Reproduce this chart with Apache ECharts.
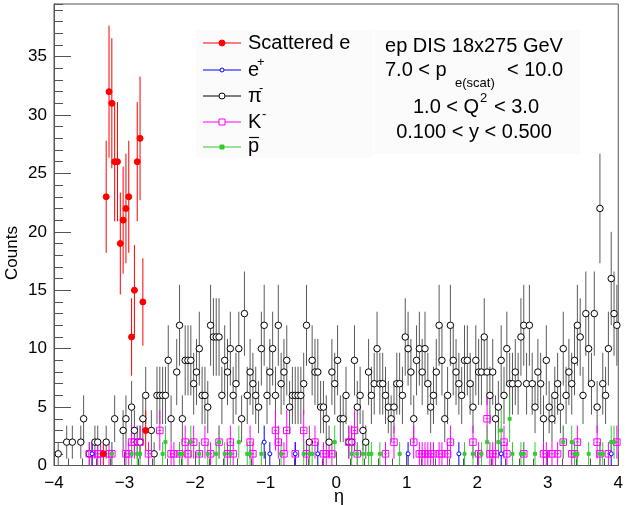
<!DOCTYPE html>
<html><head><meta charset="utf-8">
<script src="https://cdn.jsdelivr.net/npm/echarts@6/dist/echarts.min.js"></script>
<style>html,body{margin:0;padding:0;background:#fff}#c{width:626px;height:505px}</style>
</head><body><div id="c"></div>
<script>
// ---- histogram binning (200 bins, eta from -4 to 4) ----
const N_BINS = 200, X_MIN = -4, X_MAX = 4;
const BIN_W = (X_MAX - X_MIN) / N_BINS;

// ---- data ----
const piMinusCounts = [
  0,1,0,0,2,0,2,0,0,2, 4,0,1,0,2,2,0,0,2,0,
  0,4,0,0,3,4,0,5,3,2, 2,4,6,0,3,1,6,6,6,6,
  9,4,0,8,12,4,9,9,9,7, 8,10,6,6,5,12,11,11,11,6,
  9,8,10,6,7,10,4,13,6,8, 7,6,5,10,12,6,8,10,6,12,
  7,8,9,5,6,6,6,6,7,12, 2,9,8,8,5,5,4,2,8,7,
  9,4,4,6,2,2,9,5,6,3, 2,8,6,7,10,7,7,6,5,4,
  5,7,7,6,11,10,8,4,9,10, 8,10,7,5,6,8,12,9,4,6,
  12,9,8,7,6,9,9,7,5,9, 8,8,11,8,6,8,4,5,9,6,
  10,7,7,8,7,11,12,7,12,7, 5,8,7,4,9,5,4,6,7,5,
  10,6,8,7,9,12,11,6,13,10, 7,13,5,22,7,6,10,16,13,12
];
const scatteredEBins   = [17,18,19,20,21,22,23,24,25,26,27,28,29,30,31,32];
const scatteredECounts = [1,23,32,31,26,26,19,21,22,23,11,15,26,28,14,3];
const ePlusBins   = [13,74,76,85,93,125,143,158,197];
const ePlusCounts = [1,2,1,1,1,1,1,1,1];
const kMinusBins = [12,13,15,16,19,20,25,26,27,28,30,33,37,41,42,44,46,47,49,51,53,55,58,61,62,63,69,70,78,79,81,82,85,88,89,92,95,96,98,104,105,106,107,117,120,127,129,130,131,132,133,134,136,137,139,140,148,150,153,154,155,156,159,160,166,173,174,176,178,180,183,184,185,192,193,196,199];
const kMinusCounts = [1,1,1,1,1,1,1,1,2,2,2,1,3,1,1,1,2,1,2,1,2,1,2,1,2,1,2,1,3,2,1,3,1,3,1,2,1,1,1,2,2,3,1,1,2,2,1,1,1,1,1,1,1,1,1,2,2,1,4,1,1,1,2,1,1,1,1,1,1,2,1,1,2,2,1,1,2];
const pBarBins = [20,27,29,30,38,39,44,45,48,51,54,57,58,60,62,65,68,69,73,80,88,90,91,99,105,107,109,111,112,115,122,145,148,151,153,157,158,161,162,165,166,170,180,183,184,185,189,193,194,197,198];
const pBarCounts = [1,1,1,1,1,2,1,1,2,1,1,1,2,1,1,2,1,1,1,1,1,1,1,2,1,1,1,1,1,1,1,1,1,1,2,2,3,4,1,1,1,1,2,2,1,1,1,1,1,2,2];
const xTickLabels = [-4,-3,-2,-1,0,1,2,3,4];
const yTickLabels = [0,5,10,15,20,25,30,35];

// ---- helpers ----
const binCenter = i => X_MIN + (i + 0.5) * BIN_W;
function fromBins(bins, counts) {
  return bins.map((b, k) => [binCenter(b), counts[k]]).filter(p => p[1] > 0);
}
const piData = fromBins(piMinusCounts.map((c, i) => i), piMinusCounts);
const eData = fromBins(scatteredEBins, scatteredECounts);
const epData = fromBins(ePlusBins, ePlusCounts);
const kData = fromBins(kMinusBins, kMinusCounts);
const pData = fromBins(pBarBins, pBarCounts);

const FONT = '"Liberation Sans", Arial, Helvetica, sans-serif';
const C_RED = '#ff0000', C_BLUE = '#0000ff', C_BLACK = '#000000', C_MAG = '#ff00ff', C_GREEN = '#33cc33';

function errSeries(data, color) {
  return {
    type: 'custom', data, silent: true, clip: true,
    encode: { x: 0, y: 1 },
    renderItem(params, api) {
      const x = api.value(0), y = api.value(1), e = Math.sqrt(y);
      const a = api.coord([x, Math.max(0, y - e)]);
      const b = api.coord([x, y + e]);
      const l = api.coord([x - BIN_W / 2, y]);
      const r = api.coord([x + BIN_W / 2, y]);
      return { type: 'group', children: [
        { type: 'line', shape: { x1: a[0], y1: a[1], x2: b[0], y2: b[1] }, style: { stroke: color, lineWidth: 1 } },
        { type: 'line', shape: { x1: l[0], y1: l[1], x2: r[0], y2: r[1] }, style: { stroke: color, lineWidth: 1 } }
      ]};
    }
  };
}
function markSeries(data, symbol, size, fill, stroke) {
  return {
    type: 'scatter', data, symbol, symbolSize: size, silent: true,
    itemStyle: { color: fill, borderColor: stroke, borderWidth: 1, opacity: 1 }
  };
}

// ---- legend & text box (decoration) ----
const legendRows = [
  { y: 43, color: C_RED, sym: 'circle', size: 6, fill: C_RED },
  { y: 70, color: C_BLUE, sym: 'circle', size: 4, fill: '#fff' },
  { y: 96, color: C_BLACK, sym: 'circle', size: 6, fill: '#fff' },
  { y: 122, color: C_MAG, sym: 'rect', size: 6, fill: '#fff' },
  { y: 147, color: C_GREEN, sym: 'rect', size: 4, fill: C_GREEN }
];
const graphics = [
  { type: 'rect', shape: { x: 196, y: 30, width: 177, height: 128 }, style: { fill: '#fbfbfb' }, z: 50 },
  { type: 'rect', shape: { x: 374, y: 30, width: 206, height: 124 }, style: { fill: '#fbfbfb' }, z: 50 }
];
legendRows.forEach(r => {
  graphics.push({ type: 'line', shape: { x1: 203, y1: r.y, x2: 241, y2: r.y }, style: { stroke: r.color, lineWidth: 1 }, z: 60 });
  if (r.sym === 'circle') {
    graphics.push({ type: 'circle', shape: { cx: 222, cy: r.y, r: r.size / 2 }, style: { fill: r.fill, stroke: r.color, lineWidth: 1 }, z: 61 });
  } else {
    graphics.push({ type: 'rect', shape: { x: 222 - r.size / 2, y: r.y - r.size / 2, width: r.size, height: r.size }, style: { fill: r.fill, stroke: r.color, lineWidth: 1 }, z: 61 });
  }
});
function txt(text, x, y, size, align) {
  return { type: 'text', x, y, z: 70, style: { text, fill: '#000', font: size + 'px ' + FONT, textAlign: align || 'left', textVerticalAlign: 'middle' } };
}
graphics.push(
  txt('Scattered e', 248, 43, 20),
  txt('e', 248, 70, 20), txt('+', 257, 62, 13),
  txt('\u03c0', 248, 96, 20), txt('-', 259, 88, 13),
  txt('K', 248, 122, 20), txt('-', 262, 114, 13),
  txt('p', 248, 146, 20),
  { type: 'line', shape: { x1: 249, y1: 137.5, x2: 259, y2: 137.5 }, style: { stroke: '#000', lineWidth: 1.2 }, z: 70 },
  txt('ep DIS 18x275 GeV', 474, 46, 20, 'center'),
  txt('7.0 < p', 385, 70, 20), txt('e(scat)', 455, 83, 13), txt('< 10.0', 507, 70, 20),
  txt('1.0 < Q', 413, 107, 20), txt('2', 480, 98, 13), txt('< 3.0', 494, 107, 20),
  txt('0.100 < y < 0.500', 474, 132, 20, 'center'),
  { type: 'text', x: 12, y: 253, rotation: Math.PI / 2, z: 70, style: { text: 'Counts', fill: '#000', font: '17px ' + FONT, textAlign: 'center', textVerticalAlign: 'middle' } },
  txt('\u03b7', 339, 497, 18, 'center')
);

const axisColor = '#555';
const minusFmt = v => String(v).replace('-', '\u2212');
const option = {
  animation: false,
  backgroundColor: '#fff',
  grid: { left: 54, right: 3, top: 4, bottom: 39.5, show: true, borderColor: axisColor, borderWidth: 1, backgroundColor: 'rgba(0,0,0,0)' },
  xAxis: {
    type: 'value', min: xTickLabels[0], max: xTickLabels[xTickLabels.length - 1], interval: 1,
    axisLine: { show: true, onZero: false, lineStyle: { color: axisColor } },
    axisTick: { show: true, inside: true, length: 14, lineStyle: { color: axisColor } },
    minorTick: { show: true, splitNumber: 5, length: 7, lineStyle: { color: axisColor } },
    splitLine: { show: false },
    axisLabel: { color: '#000', fontSize: 17, fontFamily: FONT, margin: 9, formatter: minusFmt }
  },
  yAxis: [{
    type: 'value', min: 0, max: 39.5, interval: 5, position: 'left',
    axisLine: { show: true, onZero: false, lineStyle: { color: axisColor } },
    axisTick: { show: true, inside: true, length: 17, lineStyle: { color: axisColor } },
    splitLine: { show: false },
    axisLabel: { color: '#000', fontSize: 17, fontFamily: FONT, margin: 7, showMaxLabel: false,
      formatter: v => (yTickLabels.indexOf(v) >= 0 ? String(v) : '') }
  }, {
    type: 'value', min: 0, max: 39.5, interval: 1, position: 'left', offset: 0,
    axisLine: { show: false, onZero: false },
    axisTick: { show: true, inside: true, length: 9, lineStyle: { color: axisColor } },
    splitLine: { show: false }, axisLabel: { show: false }
  }],
  graphic: graphics,
  series: [
    errSeries(piData, '#5a5a5a'), markSeries(piData, 'circle', 6.5, '#fff', C_BLACK),
    errSeries(kData, C_MAG), markSeries(kData, 'rect', 6.5, 'rgba(0,0,0,0)', C_MAG),
    errSeries(epData, C_BLUE), markSeries(epData, 'circle', 4, '#fff', C_BLUE),
    errSeries(pData, C_GREEN), markSeries(pData, 'rect', 3, C_GREEN, C_GREEN),
    errSeries(eData, C_RED), markSeries(eData, 'circle', 6, C_RED, C_RED)
  ]
};
const chart = echarts.init(document.getElementById('c'), null, { renderer: 'canvas' });
chart.setOption(option);
</script></body></html>
